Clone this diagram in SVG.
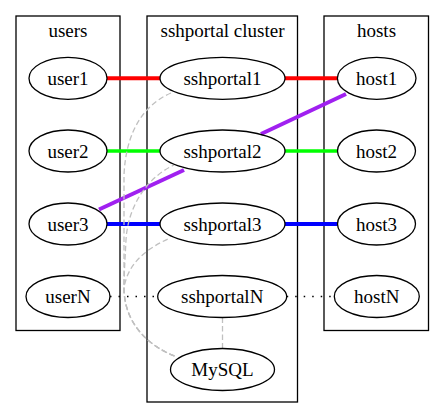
<svg xmlns="http://www.w3.org/2000/svg" width="445" height="419" viewBox="0 0 445 419">
<style>
  .cluster { fill: none; stroke: #000; stroke-width: 1.3; }
  .node ellipse { fill: none; stroke: #000; stroke-width: 1.3; }
  text { font-family: "Liberation Serif", "Times New Roman", serif; font-size: 19px; fill: #000; text-anchor: middle; }
  .red { stroke: #ff0000; stroke-width: 4; fill: none; }
  .green { stroke: #00ff00; stroke-width: 3.5; fill: none; }
  .blue { stroke: #0000ff; stroke-width: 4; fill: none; }
  .purple { stroke: #a020f0; stroke-width: 4; fill: none; }
  .dotted { stroke: #000; stroke-width: 1.3; stroke-dasharray: 1.5 7; fill: none; }
  .db { stroke: #c0c0c0; stroke-width: 1.3; stroke-dasharray: 5.5 3; fill: none; }
</style>
<rect width="445" height="419" fill="#fff"/>
<g id="cluster_users">
  <rect class="cluster" x="16" y="16" width="104" height="314.5"/>
  <text x="68" y="37">users</text>
</g>
<g id="cluster_sshportal">
  <rect class="cluster" x="147" y="16" width="150.5" height="386"/>
  <text x="222.5" y="37">sshportal cluster</text>
</g>
<g id="cluster_hosts">
  <rect class="cluster" x="324" y="16" width="104.5" height="314.5"/>
  <text x="376.5" y="37">hosts</text>
</g>
<g id="edges">
  <line class="red" x1="107" y1="78.3" x2="160" y2="78.3"/>
  <line class="red" x1="285" y1="78.3" x2="337.3" y2="78.3"/>
  <line class="green" x1="107" y1="151" x2="160" y2="151"/>
  <line class="green" x1="285" y1="151" x2="337.5" y2="151"/>
  <line class="blue" x1="107" y1="224" x2="160" y2="224"/>
  <line class="blue" x1="285" y1="224" x2="337.5" y2="224"/>
  <line class="purple" x1="99" y1="209.5" x2="184" y2="170"/>
  <line class="purple" x1="261" y1="134" x2="346" y2="94"/>
  <line class="dotted" x1="110" y1="296.5" x2="157.7" y2="296.5"/>
  <line class="dotted" x1="286.7" y1="296.5" x2="334.3" y2="296.5"/>
  <path class="db" d="M171,93 C145,104 126,130 124,175 L124,288 C124,322 147,346 177,357"/>
  <path class="db" style="stroke-dashoffset:3" d="M174,165 C148,177 128,205 126,240 C125,260 124,275 124,288 C124,322 147,346 177,357"/>
  <path class="db" style="stroke-dashoffset:6" d="M170,238 C148,248 128,262 124,288 C124,322 147,346 177,357"/>
  <line class="db" x1="222.5" y1="317.5" x2="222.5" y2="348.5"/>
</g>
<g id="user1" class="node"><ellipse cx="68" cy="78.3" rx="39" ry="21"/><text x="68" y="85">user1</text></g>
<g id="user2" class="node"><ellipse cx="68" cy="151" rx="39" ry="21"/><text x="68" y="157.7">user2</text></g>
<g id="user3" class="node"><ellipse cx="68" cy="224" rx="39" ry="21"/><text x="68" y="230.7">user3</text></g>
<g id="userN" class="node"><ellipse cx="68" cy="296.5" rx="42" ry="21"/><text x="68" y="303.2">userN</text></g>
<g id="sshportal1" class="node"><ellipse cx="222.5" cy="78.3" rx="62.5" ry="21"/><text x="222.5" y="85">sshportal1</text></g>
<g id="sshportal2" class="node"><ellipse cx="222.5" cy="151" rx="62.5" ry="21"/><text x="222.5" y="157.7">sshportal2</text></g>
<g id="sshportal3" class="node"><ellipse cx="222.5" cy="224" rx="62.5" ry="21"/><text x="222.5" y="230.7">sshportal3</text></g>
<g id="sshportalN" class="node"><ellipse cx="222.2" cy="296.5" rx="64.5" ry="21"/><text x="222.2" y="303.2">sshportalN</text></g>
<g id="MySQL" class="node"><ellipse cx="222.5" cy="369.5" rx="52" ry="21"/><text x="222.5" y="376.2">MySQL</text></g>
<g id="host1" class="node"><ellipse cx="376.7" cy="78.3" rx="39.3" ry="21"/><text x="376.7" y="85">host1</text></g>
<g id="host2" class="node"><ellipse cx="376.5" cy="151" rx="39" ry="21"/><text x="376.5" y="157.7">host2</text></g>
<g id="host3" class="node"><ellipse cx="376.5" cy="224" rx="39" ry="21"/><text x="376.5" y="230.7">host3</text></g>
<g id="hostN" class="node"><ellipse cx="376.8" cy="296.5" rx="42.5" ry="21"/><text x="376.8" y="303.2">hostN</text></g>
</svg>
